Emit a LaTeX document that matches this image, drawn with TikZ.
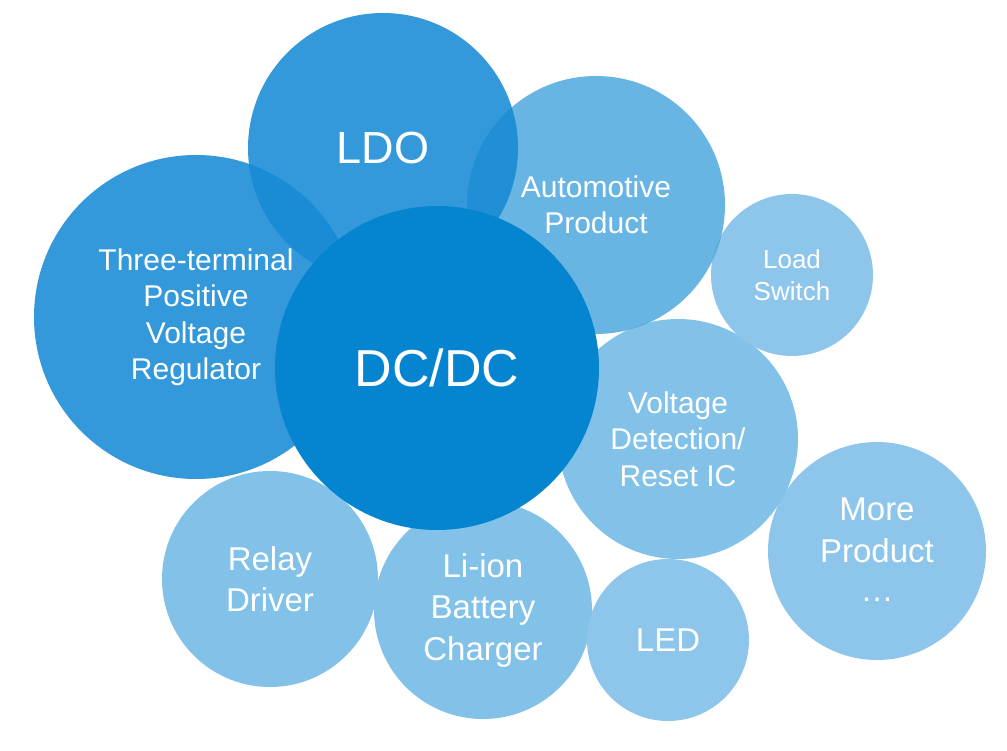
\documentclass[tikz,border=0pt]{standalone}
\usepackage{fontspec}
\setmainfont{Liberation Sans}
\begin{document}
\begin{tikzpicture}[x=1pt,y=-1pt,
  bub/.style={circle,draw=none,inner sep=0pt,align=center,text=white,text opacity=1},
  fA/.style={font=\fontsize{26}{32}\selectfont},
  fB/.style={font=\fontsize{30}{36.5}\selectfont},
  fC/.style={font=\fontsize{33}{41.5}\selectfont}]
\useasboundingbox (0,0) rectangle (1007,751);
\definecolor{cmid}{RGB}{22,138,212}
\definecolor{cdark}{HTML}{0584D0}
\definecolor{cauto}{RGB}{82,169,222}
\definecolor{clight}{HTML}{82C1E8}
\definecolor{clight2}{HTML}{8DC6EA}
% light bubbles
\node[bub,fill=clight,minimum size=216pt,fC] (relay) at (270,579) {Relay\\Driver};
\node[bub,fill=clight,minimum size=218pt,fC] (liion) at (483,610) {Li-ion\\Battery\\Charger};
\node[bub,fill=clight2,minimum size=162pt,fC] (led) at (668,640) {LED};
\node[bub,fill=clight2,minimum size=218pt,fC] (more) at (877,551) {More\\Product\\\raisebox{2pt}{\dots}};
\node[bub,fill=clight,minimum size=240pt,fB] (volt) at (678,439) {Voltage\\Detection/\\Reset IC};
\node[bub,fill=clight2,minimum size=162pt,fA] (load) at (792,275) {Load\\Switch};
% mid bubbles with transparency
\node[bub,fill=cauto,fill opacity=0.87,minimum size=258pt,fB] (auto) at (596,205) {Automotive\\Product};
\node[bub,fill=cmid,fill opacity=0.87,minimum size=324pt,fB] (three) at (196,317) {Three-terminal\\Positive\\Voltage\\Regulator};
\node[bub,fill=cmid,fill opacity=0.87,minimum size=270pt,font=\fontsize{45}{50}\selectfont] (ldo) at (383,148) {LDO};
% main
\node[bub,fill=cdark,minimum size=324pt,font=\fontsize{52}{60}\selectfont] (dcdc) at (437,368) {DC/DC};
\end{tikzpicture}
\end{document}
